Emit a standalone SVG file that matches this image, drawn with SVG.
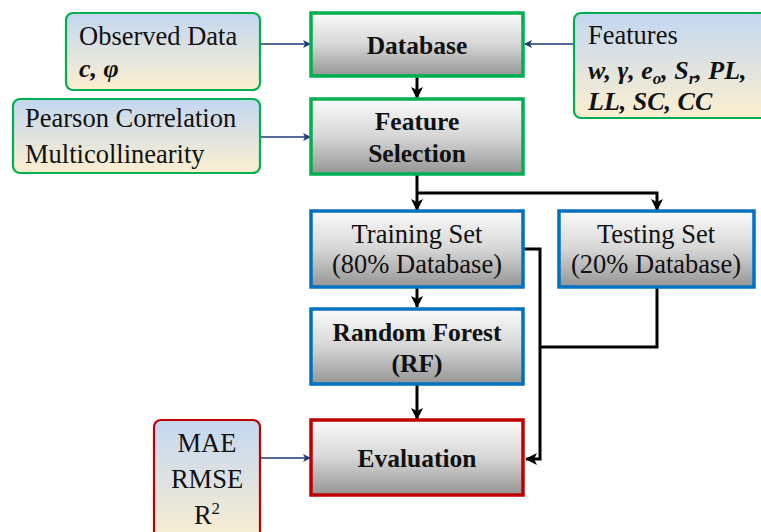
<svg xmlns="http://www.w3.org/2000/svg" width="761" height="532" viewBox="0 0 761 532">
<defs>
<linearGradient id="gGray" x1="0" y1="0" x2="0" y2="1">
<stop offset="0" stop-color="#fbfbfb"/><stop offset="0.5" stop-color="#d6d6d6"/><stop offset="1" stop-color="#959595"/>
</linearGradient>
<linearGradient id="gSide" x1="0" y1="0" x2="0" y2="1">
<stop offset="0" stop-color="#c3d7f1"/><stop offset="1" stop-color="#fcefcf"/>
</linearGradient>
<marker id="aThin" markerWidth="8" markerHeight="8" refX="7" refY="4" orient="auto" markerUnits="userSpaceOnUse">
<path d="M0,0 L8,4 L0,8 L2,4 Z" fill="#1f3a78"/>
</marker>
<marker id="aThick" markerWidth="12" markerHeight="12" refX="11" refY="6" orient="auto" markerUnits="userSpaceOnUse">
<path d="M0,0 L12,6 L0,12 L3,6 Z" fill="#000"/>
</marker>
</defs>
<style>
.main{fill:url(#gGray);stroke-width:3.5}
.side{fill:url(#gSide);stroke-width:2.2}
.g{stroke:#00b050}.b{stroke:#0070c0}.r{stroke:#c00000}
text{font-family:"Liberation Serif","Times New Roman",serif;fill:#111}
.bt{font-weight:bold;font-size:25.5px;text-anchor:middle}
.nt{font-size:26.5px}
.ct{font-size:26.5px;text-anchor:middle}
.bi{font-weight:bold;font-style:italic;font-size:26px}
.thin{stroke:#1f3a78;stroke-width:1.5;fill:none;marker-end:url(#aThin)}
.thick{stroke:#000;stroke-width:3;fill:none}
.thickA{stroke:#000;stroke-width:3;fill:none;marker-end:url(#aThick)}
</style>

<g id="connectors">
<line class="thin" x1="260" y1="44" x2="310" y2="44"/>
<line class="thin" x1="573" y1="44" x2="525" y2="44"/>
<line class="thin" x1="260" y1="137" x2="310" y2="137"/>
<line class="thin" x1="260" y1="458" x2="310" y2="458"/>
<line class="thickA" x1="417" y1="77" x2="417" y2="98"/>
<path class="thickA" d="M417,175 L417,210"/>
<path class="thickA" d="M417,193 L657,193 L657,210"/>
<line class="thickA" x1="417" y1="288" x2="417" y2="307"/>
<line class="thickA" x1="417" y1="385" x2="417" y2="419"/>
<path class="thickA" d="M524,249 L540,249 L540,459 L526,459"/>
<path class="thick" d="M657,288 L657,347 L540,347"/>
</g>

<g id="database">
<rect class="main g" x="311" y="13" width="212" height="63"/>
<text class="bt" x="417" y="54">Database</text>
</g>

<g id="feature-selection">
<rect class="main g" x="311" y="99" width="212" height="75"/>
<text class="bt" x="417" y="130">Feature</text>
<text class="bt" x="417" y="162">Selection</text>
</g>

<g id="observed-data">
<rect class="side g" x="66" y="13" width="194" height="77" rx="7"/>
<text class="nt" x="79" y="45">Observed Data</text>
<text class="bi" x="79" y="77">c, φ</text>
</g>

<g id="features">
<rect class="side g" x="574" y="13" width="200" height="105" rx="7"/>
<text class="nt" x="588" y="44">Features</text>
<text class="bi" x="588" y="79">w, γ, e<tspan font-size="17" dy="5">o</tspan><tspan dy="-5">, S</tspan><tspan font-size="17" dy="5">r</tspan><tspan dy="-5">, PL,</tspan></text>
<text class="bi" x="588" y="110">LL, SC, CC</text>
</g>

<g id="pearson">
<rect class="side g" x="13" y="99" width="247" height="74" rx="7"/>
<text class="nt" x="25" y="127">Pearson Correlation</text>
<text class="nt" x="25" y="163">Multicollinearity</text>
</g>

<g id="training-set">
<rect class="main b" x="311" y="211" width="212" height="76"/>
<text class="ct" x="417" y="243">Training Set</text>
<text class="ct" x="417" y="273">(80% Database)</text>
</g>

<g id="testing-set">
<rect class="main b" x="559" y="211" width="195" height="76"/>
<text class="ct" x="656" y="243">Testing Set</text>
<text class="ct" x="656" y="273">(20% Database)</text>
</g>

<g id="random-forest">
<rect class="main b" x="311" y="309" width="212" height="75"/>
<text class="bt" x="417" y="341">Random Forest</text>
<text class="bt" x="417" y="372">(RF)</text>
</g>

<g id="evaluation">
<rect class="main r" x="311" y="420" width="212" height="75"/>
<text class="bt" x="417" y="467">Evaluation</text>
</g>

<g id="metrics">
<rect class="side r" x="154" y="420" width="106" height="125" rx="7"/>
<text class="ct" x="207" y="452">MAE</text>
<text class="ct" x="207" y="488">RMSE</text>
<text class="ct" x="207" y="524">R<tspan font-size="17" dy="-10">2</tspan></text>
</g>
</svg>
